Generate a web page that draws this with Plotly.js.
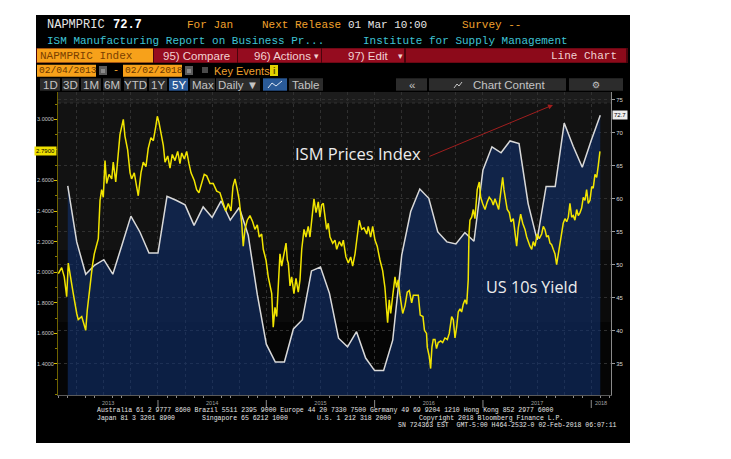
<!DOCTYPE html>
<html><head><meta charset="utf-8">
<script src="https://cdn.plot.ly/plotly-3.0.1.min.js"></script>
<style>html,body{margin:0;padding:0;background:#fff;overflow:hidden}#chart{width:731px;height:459px}</style>
</head><body><div id="chart"></div>
<script>
// ---------- DATA ----------
// ISM Manufacturing Prices Index (monthly, plotted at month end, decimal years)
const ismT = [2013.167,2013.250,2013.333,2013.417,2013.500,2013.583,2013.667,2013.750,2013.833,2013.917,2014.000,
  2014.083,2014.167,2014.250,2014.333,2014.417,2014.500,2014.583,2014.667,2014.750,2014.833,2014.917,2015.000,
  2015.083,2015.167,2015.250,2015.333,2015.417,2015.500,2015.583,2015.667,2015.750,2015.833,2015.917,2016.000,
  2016.083,2016.167,2016.250,2016.333,2016.417,2016.500,2016.583,2016.667,2016.750,2016.833,2016.917,2017.000,
  2017.083,2017.167,2017.250,2017.333,2017.417,2017.500,2017.583,2017.667,2017.750,2017.833,2017.917,2018.000,
  2018.083];
const ismV = [62.0,53.5,48.6,50.0,50.8,48.6,53.0,57.4,55.0,51.8,51.8,
  60.4,59.8,59.1,56.0,58.8,57.2,59.7,56.8,58.7,54.5,45.5,38.0,
  35.3,35.3,40.3,41.7,49.1,49.7,45.7,38.9,37.6,39.9,35.9,34.0,
  34.0,38.6,51.5,58.1,61.5,60.1,55.0,53.5,53.2,54.9,53.6,64.4,
  67.9,67.0,68.8,68.4,59.3,53.8,61.9,61.9,71.5,68.0,64.8,68.9,
  72.7];
// US 10-year yield (decimal years)
const yldT = [2013.080,2013.111,2013.135,2013.142,2013.157,2013.172,2013.188,2013.203,2013.218,2013.250,2013.264,2013.296,2013.320,2013.333,2013.347,2013.372,2013.394,2013.412,2013.434,2013.449,
  2013.465,2013.480,2013.495,2013.511,2013.526,2013.548,2013.573,2013.587,2013.610,2013.634,2013.649,2013.680,2013.695,2013.720,2013.742,2013.757,2013.781,2013.803,2013.818,2013.843,
  2013.864,2013.889,2013.910,2013.935,2013.957,2013.979,2013.994,2014.009,2014.028,2014.049,2014.065,2014.090,2014.111,2014.132,2014.157,2014.182,2014.203,2014.219,2014.243,2014.265,
  2014.286,2014.305,2014.335,2014.357,2014.378,2014.403,2014.427,2014.450,2014.480,2014.510,2014.542,2014.572,2014.603,2014.625,2014.649,2014.674,2014.692,2014.711,2014.732,2014.750,
  2014.773,2014.787,2014.803,2014.824,2014.849,2014.874,2014.895,2014.917,2014.935,2014.957,2014.972,2014.997,2015.018,2015.040,2015.050,2015.064,2015.080,2015.096,2015.111,2015.126,
  2015.142,2015.157,2015.182,2015.194,2015.203,2015.219,2015.234,2015.255,2015.274,2015.295,2015.311,2015.327,2015.348,2015.366,2015.387,2015.403,2015.428,2015.440,2015.459,2015.480,
  2015.495,2015.511,2015.526,2015.542,2015.557,2015.572,2015.588,2015.613,2015.634,2015.650,2015.674,2015.696,2015.711,2015.735,2015.757,2015.779,2015.797,2015.819,2015.840,2015.858,
  2015.880,2015.902,2015.927,2015.941,2015.963,2015.982,2016.003,2016.024,2016.049,2016.074,2016.095,2016.111,2016.120,2016.135,2016.148,2016.166,2016.188,2016.203,2016.218,2016.234,
  2016.250,2016.259,2016.280,2016.301,2016.320,2016.342,2016.357,2016.382,2016.403,2016.421,2016.446,2016.460,2016.479,2016.486,2016.504,2016.517,2016.529,2016.541,2016.557,2016.571,
  2016.587,2016.610,2016.628,2016.649,2016.671,2016.689,2016.711,2016.726,2016.742,2016.757,2016.772,2016.788,2016.803,2016.818,2016.834,2016.850,2016.859,2016.864,2016.871,2016.880,
  2016.896,2016.911,2016.926,2016.947,2016.966,2016.979,2016.997,2017.019,2017.040,2017.058,2017.080,2017.095,2017.111,2017.127,2017.145,2017.164,2017.182,2017.194,2017.212,2017.224,
  2017.243,2017.259,2017.280,2017.296,2017.311,2017.326,2017.348,2017.367,2017.388,2017.404,2017.418,2017.434,2017.450,2017.464,2017.480,2017.501,2017.520,2017.542,2017.557,2017.572,
  2017.588,2017.603,2017.619,2017.634,2017.649,2017.665,2017.680,2017.695,2017.711,2017.727,2017.741,2017.757,2017.773,2017.788,2017.803,2017.819,2017.834,2017.849,2017.865,2017.880,
  2017.896,2017.911,2017.926,2017.942,2017.957,2017.972,2017.988,2018.004,2018.018,2018.034,2018.050,2018.065,2018.080];
const yldV = [1.99,2.03,1.97,1.93,1.84,2.06,1.98,1.90,1.86,1.73,1.69,1.71,1.64,1.62,1.75,1.93,2.04,2.12,2.17,2.22,
  2.47,2.54,2.49,2.73,2.58,2.64,2.61,2.72,2.59,2.79,2.90,3.00,2.89,2.80,2.65,2.61,2.65,2.56,2.50,2.65,
  2.72,2.69,2.81,2.88,2.86,2.95,3.02,2.98,2.91,2.83,2.72,2.76,2.68,2.77,2.73,2.79,2.71,2.78,2.74,2.79,
  2.71,2.65,2.60,2.54,2.52,2.58,2.64,2.63,2.58,2.58,2.53,2.52,2.44,2.40,2.45,2.40,2.56,2.61,2.54,2.47,
  2.32,2.17,2.28,2.34,2.37,2.33,2.28,2.31,2.23,2.25,2.15,2.08,1.97,1.90,1.86,1.64,1.77,1.71,1.95,2.12,
  2.04,2.10,2.19,2.08,2.06,1.91,1.97,1.86,1.96,1.87,1.95,2.15,2.28,2.23,2.30,2.23,2.41,2.48,2.39,2.46,
  2.36,2.44,2.45,2.36,2.28,2.32,2.23,2.19,2.21,2.15,2.20,2.17,2.21,2.10,2.06,2.10,2.04,2.12,2.23,2.34,
  2.28,2.29,2.25,2.30,2.23,2.30,2.21,2.17,2.08,2.01,1.90,1.75,1.67,1.82,1.73,1.84,1.97,1.90,1.95,1.85,
  1.75,1.73,1.78,1.87,1.88,1.80,1.85,1.85,1.85,1.72,1.71,1.62,1.60,1.51,1.45,1.37,1.51,1.56,1.56,1.50,
  1.54,1.55,1.54,1.57,1.56,1.60,1.71,1.69,1.57,1.64,1.74,1.76,1.74,1.79,1.82,1.79,1.86,1.95,2.25,2.34,
  2.36,2.41,2.35,2.54,2.59,2.49,2.45,2.41,2.46,2.49,2.47,2.44,2.48,2.45,2.41,2.52,2.62,2.54,2.46,2.41,
  2.39,2.33,2.35,2.25,2.17,2.29,2.38,2.32,2.28,2.23,2.20,2.17,2.15,2.20,2.17,2.25,2.22,2.25,2.30,2.28,
  2.23,2.24,2.19,2.18,2.15,2.12,2.05,2.12,2.20,2.26,2.32,2.35,2.33,2.36,2.45,2.36,2.37,2.34,2.41,2.37,
  2.39,2.42,2.49,2.47,2.54,2.45,2.47,2.56,2.55,2.64,2.62,2.70,2.79];
const yearLabels = ['2013','2014','2015','2016','2017','2018'];
const yearLabelPos = [2013.54,2014.5,2015.5,2016.5,2017.5,2018.09];
const yearStarts = [2014,2015,2016,2017,2018];
const ismTicks = [35,40,45,50,55,60,65,70,75];
const yldTicks = [1.4,1.6,1.8,2.0,2.2,2.4,2.6,3.0];

// ---------- GEOMETRY (layout decoration helpers) ----------
const W=731,H=459,L=58,R=611,T=92,B=395;
const X = px => (px-L)/(R-L);
const Y = py => (B-py)/(B-T);
const xRange=[2013.077,2018.182];
const MONO='Liberation Mono, DejaVu Sans Mono, monospace';
const SANS='Liberation Sans, Arial, sans-serif';
const OPEN='Open Sans, Liberation Sans, sans-serif';

const shapes=[];
function rect(x1,y1,x2,y2,c,layer){shapes.push({type:'rect',xref:'paper',yref:'paper',x0:X(x1),x1:X(x2),y0:Y(y2),y1:Y(y1),fillcolor:c,line:{width:0},layer:layer||'below'});}
const ann=[];
function txt(px,py,text,o){o=o||{};ann.push({xref:'paper',yref:'paper',x:X(px),y:Y(py),text:text,showarrow:false,
  xanchor:o.a||'left',yanchor:'middle',borderpad:0,font:{family:o.f||MONO,size:o.s||11,color:o.c||'#dcdcdc',weight:o.w||'normal'}});}

// panel
rect(36,15,630,443,'#000000');
// plot background bands
rect(58,92,611,103,'#1c1c1c');
rect(58,103,611,250,'#121212');
rect(58,250,611,322,'#0b0b0b');
rect(58,322,611,395,'#050505');
shapes.push({type:'line',xref:'paper',yref:'paper',x0:X(58),x1:X(611),y0:Y(103),y1:Y(103),line:{color:'#333',width:1,dash:'dot'},layer:'below'});

// header row 1 & 2
const ORANGE='#f0a02c', CYAN='#3ec3d5';
txt(46,25,'NAPMPRIC',{s:12,c:'#e6e6e6'});
txt(112,25,'72.7',{s:12,c:'#ffffff',w:'bold'});
txt(186,25,'For Jan',{c:ORANGE});
txt(261,25,'Next Release',{c:ORANGE});
txt(347,25,'01 Mar 10:00',{c:'#e6e6e6'});
txt(461,25,'Survey --',{c:ORANGE});
txt(46,41,'ISM Manufacturing Report on Business Pr...',{c:CYAN});
txt(362,41,'Institute for Supply Management',{c:CYAN});

// row 3 red bar
rect(36,48,628,63,'#4a040c','above');
rect(37,48.5,153,62.5,'#f7a11a','above');
rect(154,48.5,237,62.5,'#950c1f','above');
rect(238,48.5,321,62.5,'#950c1f','above');
rect(322,48.5,404,62.5,'#950c1f','above');
rect(406,48.5,626,62.5,'#8c0a1a','above');
txt(39,56,'NAPMPRIC Index',{c:'#7a4000'});
txt(196,56,'95) Compare',{f:SANS,s:11.5,c:'#f1d2d2',a:'center'});
txt(253,56,'96) Actions',{f:SANS,s:11.5,c:'#f1d2d2'});
txt(316,56,'▾',{f:'DejaVu Sans',s:9,c:'#f1d2d2',a:'center'});
txt(347,56,'97) Edit',{f:SANS,s:11.5,c:'#f1d2d2'});
txt(400,56,'▾',{f:'DejaVu Sans',s:9,c:'#f1d2d2',a:'center'});
txt(618,56,'Line Chart',{c:'#f1d2d2',a:'right'});

// row 4
rect(37,64.7,96,76.7,'#f7a11a','above');
rect(123,64.7,182,76.7,'#f7a11a','above');
rect(99,66,107,75,'#5c5c5c','above'); rect(101,69,105,73,'#8a8a8a','above');
rect(185,66,193,75,'#5c5c5c','above'); rect(187,69,191,73,'#8a8a8a','above');
rect(202,67,208,73,'#4a4a4a','above');
rect(270,65,278,76,'#e2d200','above');
txt(37.5,70.7,'02/04/2013',{s:9.6,c:'#6b3800'});
txt(116,70.7,'-',{s:10,c:ORANGE,a:'center'});
txt(123.5,70.7,'02/02/2018',{s:9.6,c:'#6b3800'});
txt(213,70.7,'Key Events',{f:SANS,s:11,c:ORANGE});
txt(274,70.7,'i',{f:SANS,s:9,c:'#5a4a00',a:'center',w:'bold'});

// row 5 buttons
const btns=[[40,60,'1D'],[62,79,'3D'],[81,101,'1M'],[103,121,'6M'],[124,147,'YTD'],[149,167,'1Y'],[169,188,'5Y',1],[190,215,'Max'],[216,260,'Daily ▼'],[263,287,'',1],[289,323,'Table'],[396,427,'«'],[429,566,''],[569,623,'⚙']];
btns.forEach(b=>{rect(b[0],78.3,b[1],90.7,b[3]?'#2a5a98':'#2c2c2c','above');
  if(b[2]) txt((b[0]+b[1])/2,84.6,b[2],{f:b[2]==='⚙'?'DejaVu Sans':SANS,s:b[2]==='⚙'?9:11.5,c:b[3]?'#ffffff':'#c4c4c4',a:'center'});});
txt(472,84.6,'Chart Content',{f:SANS,s:11.5,c:'#c4c4c4'});
shapes.push({type:'path',xref:'paper',yref:'paper',path:`M${X(268)},${Y(88)} L${X(272)},${Y(83)} L${X(276)},${Y(86)} L${X(282)},${Y(81)}`,line:{color:'#dfe8f5',width:1}});
shapes.push({type:'path',xref:'paper',yref:'paper',path:`M${X(454)},${Y(88)} L${X(457)},${Y(84)} L${X(459)},${Y(86)} L${X(462)},${Y(82)}`,line:{color:'#c4c4c4',width:1}});

// year separators below axis
yearStarts.forEach(yr=>shapes.push({type:'line',xref:'x',yref:'paper',x0:yr,x1:yr,y0:Y(408),y1:Y(400),line:{color:'#8a8a8a',width:1}}));

// footer
const FOOT='#e4e4e4', FS=6.5;
txt(96,410.5,'Australia 61 2 9777 8600 Brazil 5511 2395 9000 Europe 44 20 7330 7500 Germany 49 69 9204 1210 Hong Kong 852 2977 6000',{s:FS,c:FOOT});
txt(96,418,'Japan 81 3 3201 8900',{s:FS,c:FOOT});
txt(201,418,'Singapore 65 6212 1000',{s:FS,c:FOOT});
txt(316,418,'U.S. 1 212 318 2000',{s:FS,c:FOOT});
txt(418,418,'Copyright 2018 Bloomberg Finance L.P.',{s:FS,c:FOOT});
txt(397,425.5,'SN 724363 EST  GMT-5:00 H464-2532-0 02-Feb-2018 06:07:11',{s:FS,c:FOOT});

// chart annotations
txt(358,153,'ISM Prices Index',{f:OPEN,s:16.5,c:'#ececec',a:'center'});
txt(532,287,'US 10s Yield',{f:OPEN,s:16.2,c:'#ececec',a:'center'});
ann.push({xref:'paper',yref:'paper',x:X(553),y:Y(105),ax:-125,ay:52,axref:'pixel',ayref:'pixel',text:'',showarrow:true,arrowhead:2,arrowsize:1,arrowwidth:1,arrowcolor:'#a01e1e',standoff:0});
const lastY=yldV[yldV.length-1], lastI=ismV[ismV.length-1];
ann.push({xref:'paper',yref:'y2',x:0,y:lastY,xanchor:'right',yanchor:'middle',xshift:-1,text:lastY.toFixed(4),showarrow:false,bgcolor:'#efe000',borderpad:1,font:{family:SANS,size:6,color:'#000'}});
ann.push({xref:'paper',yref:'y',x:1,y:lastI,xanchor:'left',yanchor:'middle',xshift:1,text:lastI.toFixed(1),showarrow:false,bgcolor:'#eeeeee',borderpad:1,font:{family:SANS,size:6,color:'#000'}});

const data=[
 {type:'scatter',x:ismT,y:ismV,xaxis:'x',yaxis:'y',mode:'lines',line:{color:'#d9d9d9',width:1.5},fill:'tozeroy',fillcolor:'rgba(16,48,110,0.6)',hoverinfo:'skip'},
 {type:'scatter',x:yldT,y:yldV,xaxis:'x2',yaxis:'y2',mode:'lines',line:{color:'#f2e500',width:1.5},hoverinfo:'skip'}
];
const layout={
  width:W,height:H,margin:{l:L,r:W-R,t:T,b:H-B,pad:0},
  paper_bgcolor:'#ffffff',plot_bgcolor:'rgba(0,0,0,0)',showlegend:false,
  font:{family:SANS,size:6,color:'#cccccc'},
  xaxis:{range:xRange,tick0:2013,dtick:0.25,showticklabels:false,ticks:'',showgrid:true,gridcolor:'#303030',griddash:'dot',zeroline:false,
    showline:true,linecolor:'#5a5a5a',linewidth:1,minor:{tick0:2013,dtick:1/12,ticks:'outside',ticklen:2,tickcolor:'#8a8a8a',showgrid:false}},
  xaxis2:{overlaying:'x',anchor:'y',side:'bottom',range:xRange,tickmode:'array',tickvals:yearLabelPos,ticktext:yearLabels,ticks:'',
    showgrid:false,zeroline:false,showline:false,tickfont:{family:SANS,size:5.5,color:'#a0a0a0'},ticklabelstandoff:3},
  yaxis:{side:'right',range:[30.3,76.21],tickmode:'array',tickvals:ismTicks,ticks:'outside',ticklen:3,tickcolor:'#9a9a9a',
    tickfont:{family:SANS,size:6,color:'#d8d8d8'},showgrid:true,gridcolor:'#303030',griddash:'dot',zeroline:false,showline:true,linecolor:'#8a8a8a',linewidth:1},
  yaxis2:{overlaying:'y',side:'left',anchor:'x',range:[1.197,3.1785],tickmode:'array',tickvals:yldTicks,tickformat:'.4f',ticks:'outside',ticklen:3,tickcolor:'#d8c400',
    tickfont:{family:SANS,size:5.5,color:'#c8c8c8'},ticklabelstandoff:-1,minor:{tick0:1.4,dtick:0.1,ticks:'outside',ticklen:2,tickcolor:'#8a7c00'},showgrid:false,zeroline:false,showline:true,linecolor:'#6e6200',linewidth:1},
  shapes:shapes,annotations:ann
};
Plotly.newPlot('chart',data,layout,{displayModeBar:false,staticPlot:true});
</script></body></html>
